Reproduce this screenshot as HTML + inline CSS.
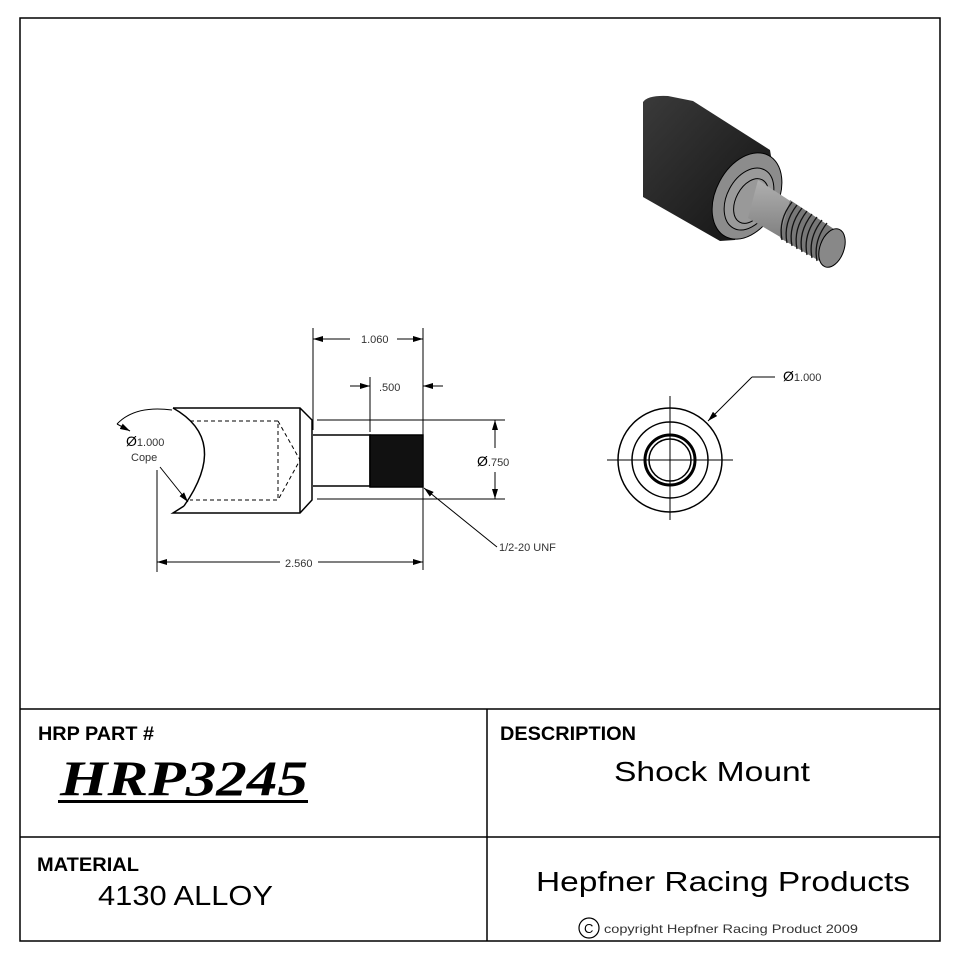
<!DOCTYPE html>
<html><head><meta charset="utf-8"><style>
html,body{margin:0;padding:0;background:#fff;width:960px;height:960px;overflow:hidden}
svg{display:block}
</style></head><body>
<svg width="960" height="960" viewBox="0 0 960 960" xmlns="http://www.w3.org/2000/svg" font-family="Liberation Sans, sans-serif">
<defs>
<marker id="a" viewBox="0 0 10 6" refX="10" refY="3" markerWidth="10" markerHeight="6" orient="auto-start-reverse" markerUnits="userSpaceOnUse"><path d="M0,0 L10,3 L0,6z" fill="#000"/></marker>
<linearGradient id="g1" x1="0" y1="0" x2="1" y2="1"><stop offset="0" stop-color="#3a3a3a"/><stop offset="1" stop-color="#111"/></linearGradient>
<linearGradient id="g2" x1="0" y1="0" x2="0" y2="1"><stop offset="0" stop-color="#b0b0b0"/><stop offset="1" stop-color="#6a6a6a"/></linearGradient>
</defs>
<rect x="20" y="18" width="920" height="923" fill="none" stroke="#000" stroke-width="1.5"/>
<line x1="20" y1="709" x2="940" y2="709" stroke="#000" stroke-width="1.5"/>
<line x1="20" y1="837" x2="940" y2="837" stroke="#000" stroke-width="1.5"/>
<line x1="487" y1="709" x2="487" y2="941" stroke="#000" stroke-width="1.5"/>

<!-- 3D view -->
<g>
<path d="M643,102 Q648,95 668,96 L693,101 L770,150 L775,180 L735,240 L720,241 L643,197 Z" fill="url(#g1)"/>
<ellipse cx="747" cy="196" rx="31" ry="46" transform="rotate(28 747 196)" fill="#8c8c8c" stroke="#000"/>
<ellipse cx="749" cy="199" rx="22" ry="33" transform="rotate(28 749 199)" fill="#9a9a9a" stroke="#000"/>
<ellipse cx="751" cy="201" rx="15" ry="24" transform="rotate(28 751 201)" fill="#999" stroke="#000"/>
<path d="M758,180 L838,232 L828,265 L748,218 Z" fill="url(#g2)"/>
<path d="M790,200 L840,233 L828,266 L780,238 Z" fill="#777"/>
<g stroke="#111" stroke-width="1.3" fill="none">
<path d="M792,202 Q778,220 782,240"/><path d="M797,205 Q783,223 787,243"/><path d="M802,208 Q788,226 792,246"/><path d="M807,211 Q793,229 797,249"/><path d="M812,214 Q798,232 802,252"/><path d="M817,217 Q803,235 807,255"/><path d="M822,220 Q808,238 812,258"/><path d="M827,223 Q813,241 817,261"/>
</g>
<ellipse cx="832" cy="248" rx="12" ry="20" transform="rotate(20 832 248)" fill="#888" stroke="#000"/>
</g>

<!-- side view -->
<g stroke="#000" fill="none" stroke-width="1.5">
<path d="M173,408 L300,408 L312,420 L312,500 L300,513 L173,513 L184,506"/>
<path d="M173,408 Q230,440 184,506"/>
<line x1="300" y1="408" x2="300" y2="513"/>
<path d="M313,435 L370,435 L370,486 L313,486"/>
<rect x="370" y="435" width="53" height="52" fill="#111"/>
<g stroke-dasharray="4,3" stroke-width="1">
<path d="M190,421 L278,421 L278,500 L190,500"/>
<path d="M278,421 L300,460 L278,500"/>
</g>
</g>
<g stroke="#000" stroke-width="1" fill="none">
<line x1="313" y1="328" x2="313" y2="430"/><line x1="423" y1="328" x2="423" y2="570"/>
<line x1="370" y1="377" x2="370" y2="432"/>
<line x1="313" y1="339" x2="350" y2="339" marker-start="url(#a)"/><line x1="397" y1="339" x2="423" y2="339" marker-end="url(#a)"/>
<line x1="350" y1="386" x2="370" y2="386" marker-end="url(#a)"/><line x1="443" y1="386" x2="423" y2="386" marker-end="url(#a)"/>
<line x1="317" y1="420" x2="505" y2="420"/><line x1="317" y1="499" x2="505" y2="499"/>
<line x1="495" y1="420" x2="495" y2="448" marker-start="url(#a)"/><line x1="495" y1="472" x2="495" y2="499" marker-end="url(#a)"/>
<line x1="157" y1="470" x2="157" y2="572"/>
<line x1="157" y1="562" x2="280" y2="562" marker-start="url(#a)"/><line x1="318" y1="562" x2="423" y2="562" marker-end="url(#a)"/>
<line x1="497" y1="547" x2="424" y2="488" marker-end="url(#a)"/>
<line x1="160" y1="467" x2="188" y2="502" marker-end="url(#a)"/>
<path d="M117,424 Q135,405 172,410"/>
<line x1="117" y1="424" x2="130" y2="431" marker-end="url(#a)"/>
</g>
<g font-size="11" fill="#333">
<text x="361" y="343">1.060</text>
<text x="379" y="391">.500</text>
<text x="477" y="466"><tspan font-size="14" fill="#000">Ø</tspan>.750</text>
<text x="285" y="567">2.560</text>
<text x="499" y="551">1/2-20 UNF</text>
<text x="126" y="446"><tspan font-size="14" fill="#000">Ø</tspan>1.000</text>
<text x="131" y="461">Cope</text>
<text x="783" y="381"><tspan font-size="14" fill="#000">Ø</tspan>1.000</text>
</g>

<!-- end view -->
<g stroke="#000" fill="none">
<circle cx="670" cy="460" r="52" stroke-width="1.5"/>
<circle cx="670" cy="460" r="38" stroke-width="1.5"/>
<circle cx="670" cy="460" r="25" stroke-width="3"/>
<circle cx="670" cy="460" r="21" stroke-width="1.5"/>
<line x1="607" y1="460" x2="733" y2="460" stroke-width="1"/>
<line x1="670" y1="396" x2="670" y2="520" stroke-width="1"/>
<line x1="775" y1="377" x2="752" y2="377"/>
<line x1="752" y1="377" x2="708" y2="421" marker-end="url(#a)"/>
</g>

<!-- title block -->
<text x="38" y="740" font-size="19" font-weight="bold" textLength="116" lengthAdjust="spacingAndGlyphs">HRP PART #</text>
<text x="60" y="795" style="font-family:'Liberation Serif',serif" font-size="50" font-weight="bold" font-style="italic" textLength="248" lengthAdjust="spacingAndGlyphs">HRP3245</text>
<rect x="58" y="800" width="250" height="3" fill="#000"/>
<text x="500" y="740" font-size="19" font-weight="bold" textLength="136" lengthAdjust="spacingAndGlyphs">DESCRIPTION</text>
<text x="614" y="781" font-size="28" textLength="196" lengthAdjust="spacingAndGlyphs">Shock Mount</text>
<text x="37" y="871" font-size="19" font-weight="bold" textLength="102" lengthAdjust="spacingAndGlyphs">MATERIAL</text>
<text x="98" y="905" font-size="28" textLength="175" lengthAdjust="spacingAndGlyphs">4130 ALLOY</text>
<text x="536" y="891" font-size="28" textLength="374" lengthAdjust="spacingAndGlyphs">Hepfner Racing Products</text>
<circle cx="589" cy="928" r="10" fill="none" stroke="#000" stroke-width="1.2"/>
<text x="584" y="933" font-size="13">C</text>
<text x="604" y="933" font-size="12" fill="#333" textLength="254" lengthAdjust="spacingAndGlyphs">copyright Hepfner Racing Product 2009</text>
</svg>
</body></html>
